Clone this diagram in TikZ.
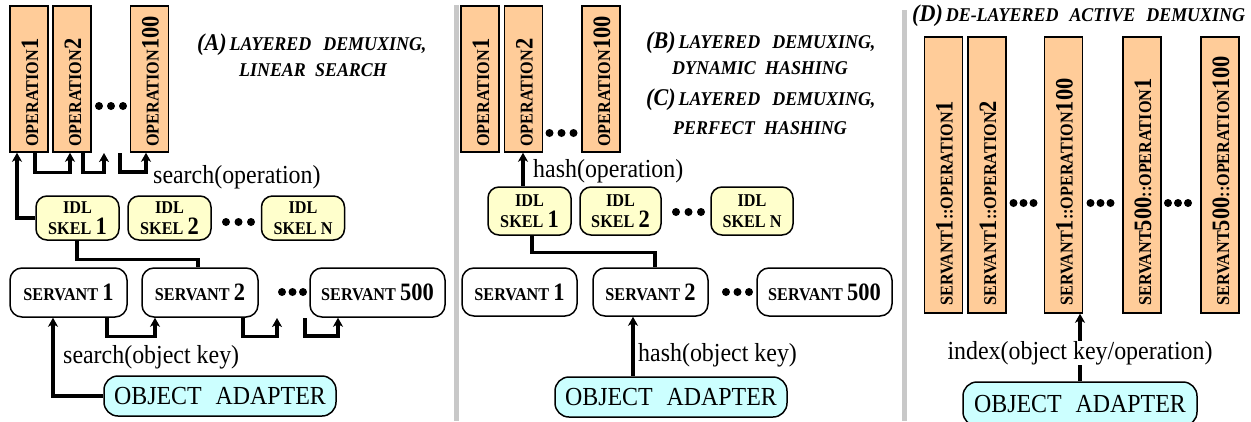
\documentclass[tikz,border=0pt]{standalone}
\usepackage{fontspec}
\setmainfont{Liberation Serif}
\usetikzlibrary{arrows.meta}

\definecolor{opfill}{HTML}{FFCC99}
\definecolor{skfill}{HTML}{FFFFCC}
\definecolor{oafill}{HTML}{CCFFFF}
\definecolor{sepgray}{HTML}{C8C8C8}

% large digits inside the small-caps style labels
\newcommand\bigdg[1]{{\fontsize{25}{25}\selectfont #1}}
% condensed bold labels
\newcommand\cond[1]{\scalebox{0.9}[1]{#1}}
% slightly condensed running text
\newcommand\narrow[1]{\scalebox{0.92}[1]{#1}}
% panel letter in the headings
\newcommand\ttlhead[1]{{\fontsize{24}{24}\selectfont #1}}

\tikzset{
  opbox/.style={draw, line width=1.5pt, fill=opfill, minimum width=38pt, inner sep=0},
  oplbl/.style={rotate=90, anchor=base west, inner sep=0, font=\fontsize{18}{18}\selectfont\bfseries},
  skbox/.style={draw, line width=1.5pt, fill=skfill, rounded corners=11pt, minimum width=83pt,
                minimum height=44pt, align=center, inner sep=0, font=\fontsize{18}{21}\selectfont\bfseries},
  svbox/.style={draw, line width=1.5pt, fill=white, rounded corners=12pt, minimum height=49pt,
                inner sep=0, font=\fontsize{18}{18}\selectfont\bfseries},
  oabox/.style={draw, line width=1.5pt, fill=oafill, rounded corners=14pt, inner sep=0,
                font=\fontsize{26}{26}\selectfont},
  lbl/.style={inner sep=0, font=\fontsize{26}{26}\selectfont},
  ttl/.style={inner sep=0, font=\fontsize{19.5}{19.5}\selectfont\bfseries\itshape},
  link/.style={line width=3.2pt},
  conn/.style={link, -{Stealth[length=9pt,width=10pt,inset=2.5pt]}},
  sepbar/.style={line width=5pt, draw=sepgray}
}

\begin{document}
\begin{tikzpicture}[x=1pt,y=-1pt]
\useasboundingbox (0,0) rectangle (1251,421);
\fill[white] (0,0) rectangle (1251,421);

% panel separators
\draw[sepbar] (456.5,5) -- (456.5,421);
\draw[sepbar] (904.5,10) -- (904.5,421);

% ---------------- (A) layered demuxing, linear search ----------------
\node[ttl, anchor=west] (ttlA1) at (197,45) {\narrow{\ttlhead{(A)}\,LAYERED\hspace{13pt}DEMUXING,}};
\node[ttl] (ttlA2) at (313,70) {\narrow{LINEAR\hspace{10pt}SEARCH}};

\node[opbox, minimum height=146pt] (opA1) at (29,79) {};
\node[opbox, minimum height=146pt] (opA2) at (72,79) {};
\node[opbox, minimum height=146pt] (opA100) at (149.5,79) {};
\node[oplbl] (opA1t) at (38,147) {\cond{OPERATION\bigdg{1}}};
\node[oplbl] (opA2t) at (81,147) {\cond{OPERATION\bigdg{2}}};
\node[oplbl] (opA100t) at (158.5,147) {\cond{OPERATION\bigdg{100}}};
\foreach \x in {99,111,123} \fill (\x,106) circle (4pt);

\node[skbox] (skA1) at (77.5,218) {\cond{IDL}\\\cond{SKEL \bigdg{1}}};
\node[skbox] (skA2) at (169.5,218) {\cond{IDL}\\\cond{SKEL \bigdg{2}}};
\node[skbox] (skAN) at (303,218) {\cond{IDL}\\\cond{SKEL N}};
\foreach \x in {226,238.5,251} \fill (\x,222) circle (4pt);

\node[svbox, minimum width=117pt] (svA1) at (68.5,292.5) {\cond{SERVANT \bigdg{1}}};
\node[svbox, minimum width=116pt] (svA2) at (200,292.5) {\cond{SERVANT \bigdg{2}}};
\node[svbox, minimum width=135pt] (svA500) at (377.5,292.5) {\cond{SERVANT \bigdg{500}}};
\foreach \x in {282,292.5,303} \fill (\x,292) circle (4pt);

\node[oabox, minimum width=232pt, minimum height=40pt] (oaA) at (220,396) {\narrow{OBJECT\hspace{15pt}ADAPTER}};

\node[lbl, anchor=west] (lblA1) at (153,177) {\narrow{search(operation)}};
\node[lbl, anchor=west] (lblA2) at (63,357) {\narrow{search(object key)}};

\coordinate (aA8e) at (104,153);
\coordinate (aA9s) at (120,153);
\coordinate (aA3e) at (277,318);
\coordinate (aA4s) at (305,318);

\draw[conn] (skA1.west) -| (17,0 |- opA1.south);
\draw[conn] (35,0 |- opA1.south) -- ++(0,20) -| (70,0 |- opA2.south);
\draw[conn] (83,0 |- opA2.south) -- ++(0,20) -| (aA8e);
\draw[conn] (aA9s) -- ++(0,19) -| (146,0 |- opA100.south);
\draw[link] (77,0 |- skA1.south) -- ++(0,19) -| (198,0 |- svA2.north);
\draw[conn] (107,0 |- svA1.south) -- ++(0,19) -| (155,0 |- svA2.south);
\draw[conn] (243,0 |- svA2.south) -- ++(0,19) -| (aA3e);
\draw[conn] (aA4s) -- ++(0,18) -| (338,0 |- svA500.south);
\draw[conn] (oaA.west) -| (53,0 |- svA1.south);

% ---------------- (B)/(C) layered demuxing, hashing ----------------
\node[ttl, anchor=west] (ttlB1) at (646,43) {\narrow{\ttlhead{(B)}\,LAYERED\hspace{13pt}DEMUXING,}};
\node[ttl] (ttlB2) at (760,68) {\narrow{DYNAMIC\hspace{10pt}HASHING}};
\node[ttl, anchor=west] (ttlC1) at (646,100) {\narrow{\ttlhead{(C)}\,LAYERED\hspace{13pt}DEMUXING,}};
\node[ttl] (ttlC2) at (760,128) {\narrow{PERFECT\hspace{10pt}HASHING}};

\node[opbox, minimum height=146pt] (opB1) at (480,79) {};
\node[opbox, minimum height=146pt] (opB2) at (523.5,79) {};
\node[opbox, minimum height=146pt] (opB100) at (601,79) {};
\node[oplbl] (opB1t) at (489,147) {\cond{OPERATION\bigdg{1}}};
\node[oplbl] (opB2t) at (532.5,147) {\cond{OPERATION\bigdg{2}}};
\node[oplbl] (opB100t) at (610,147) {\cond{OPERATION\bigdg{100}}};
\foreach \x in {549.5,561.5,573.5} \fill (\x,133) circle (4pt);

\node[skbox, minimum height=48pt] (skB1) at (529.5,211) {\cond{IDL}\\\cond{SKEL \bigdg{1}}};
\node[skbox, minimum height=48pt, minimum width=81pt] (skB2) at (620.5,211) {\cond{IDL}\\\cond{SKEL \bigdg{2}}};
\node[skbox, minimum height=48pt, minimum width=82pt] (skBN) at (752,211) {\cond{IDL}\\\cond{SKEL N}};
\foreach \x in {676,688.5,701} \fill (\x,212) circle (4pt);

\node[svbox, minimum width=115pt, minimum height=48pt] (svB1) at (519.5,292) {\cond{SERVANT \bigdg{1}}};
\node[svbox, minimum width=115pt, minimum height=48pt] (svB2) at (650.5,292) {\cond{SERVANT \bigdg{2}}};
\node[svbox, minimum width=135pt, minimum height=48pt] (svB500) at (824.5,292) {\cond{SERVANT \bigdg{500}}};
\foreach \x in {726,737.5,749} \fill (\x,292) circle (4pt);

\node[oabox, minimum width=232pt, minimum height=40pt] (oaB) at (671,397) {\narrow{OBJECT\hspace{15pt}ADAPTER}};

\node[lbl, anchor=west] (lblB1) at (533,171) {\narrow{hash(operation)}};
\node[lbl, anchor=west] (lblB2) at (638,355) {\narrow{hash(object key)}};

\draw[conn] (523,0 |- skB1.north) -- (523,0 |- opB2.south);
\draw[link] (532,0 |- skB1.south) -- ++(0,17) -| (655,0 |- svB2.north);
\draw[conn] (633,0 |- oaB.north) -- (633,0 |- svB2.south);

% ---------------- (D) de-layered active demuxing ----------------
\node[ttl, anchor=west] (ttlD) at (912,16) {\narrow{\ttlhead{(D)}\,DE-LAYERED\hspace{12pt}ACTIVE\hspace{12pt}DEMUXING}};

\node[opbox, minimum height=276pt] (opD1) at (943.5,175) {};
\node[opbox, minimum height=276pt] (opD2) at (987,175) {};
\node[opbox, minimum height=276pt] (opD3) at (1063.5,175) {};
\node[opbox, minimum height=276pt] (opD4) at (1142,175) {};
\node[opbox, minimum height=276pt] (opD5) at (1220,175) {};
\node[oplbl] (opD1t) at (952.5,306) {\cond{SERVANT\bigdg{1}::OPERATION\bigdg{1}}};
\node[oplbl] (opD2t) at (996,306) {\cond{SERVANT\bigdg{1}::OPERATION\bigdg{2}}};
\node[oplbl] (opD3t) at (1072.5,306) {\cond{SERVANT\bigdg{1}::OPERATION\bigdg{100}}};
\node[oplbl] (opD4t) at (1151,306) {\cond{SERVANT\bigdg{500}::OPERATION\bigdg{1}}};
\node[oplbl] (opD5t) at (1229,306) {\cond{SERVANT\bigdg{500}::OPERATION\bigdg{100}}};
\foreach \x in {1013.5,1023.5,1033.5,1090.5,1100.5,1110.5,1168,1178,1188} \fill (\x,203) circle (4pt);

\node[oabox, minimum width=234pt, minimum height=44pt] (oaD) at (1080,404) {\narrow{OBJECT\hspace{15pt}ADAPTER}};
\node[lbl] (idxD) at (1080,353) {\narrow{index(object key/operation)}};

\draw[link] (1080,0 |- oaD.north) -- (1080,0 |- idxD.south);
\draw[conn] (1080,0 |- idxD.north) -- (1080,0 |- opD3.south);
\end{tikzpicture}
\end{document}
